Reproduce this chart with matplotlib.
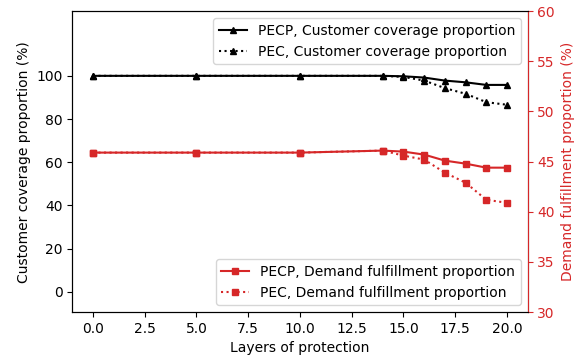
import matplotlib
matplotlib.use("Agg")
import matplotlib.pyplot as plt

# data
layers = [0, 5, 10, 14, 15, 16, 17, 18, 19, 20]
pecp_coverage = [100, 100, 100, 100, 99.8, 99.2, 97.8, 97.0, 95.8, 95.8]
pec_coverage = [100, 100, 100, 100, 99.5, 97.8, 94.3, 91.7, 87.8, 86.6]
pecp_demand = [45.9, 45.9, 45.9, 46.1, 46.0, 45.7, 45.1, 44.8, 44.4, 44.4]
pec_demand = [45.9, 45.9, 45.9, 46.1, 45.6, 45.2, 43.9, 42.9, 41.2, 40.9]

red = "#d62728"

fig, ax = plt.subplots(figsize=(5.78, 3.58), dpi=100)
fig.subplots_adjust(left=0.125, right=0.913, top=0.969, bottom=0.128)

ax.plot(layers, pecp_coverage, "-^", color="black", markersize=5,
        label="PECP, Customer coverage proportion")
ax.plot(layers, pec_coverage, ":^", color="black", markersize=5,
        label="PEC, Customer coverage proportion")
ax.set_ylim(-9.5, 130)
ax.set_yticks([0, 20, 40, 60, 80, 100])
ax.set_xlim(-1, 21)
ax.set_xlabel("Layers of protection")
ax.set_ylabel("Customer coverage proportion (%)")
ax.legend(loc="upper right")

ax2 = ax.twinx()
ax2.plot(layers, pecp_demand, "-s", color=red, markersize=5,
         label="PECP, Demand fulfillment proportion")
ax2.plot(layers, pec_demand, ":s", color=red, markersize=5,
         label="PEC, Demand fulfillment proportion")
ax2.set_ylim(30, 60)
ax2.set_ylabel("Demand fulfillment proportion (%)", color=red)
ax2.tick_params(axis="y", colors=red)
ax2.spines["right"].set_color(red)
ax2.legend(loc="lower right")

fig.savefig("out.png", dpi=100)
